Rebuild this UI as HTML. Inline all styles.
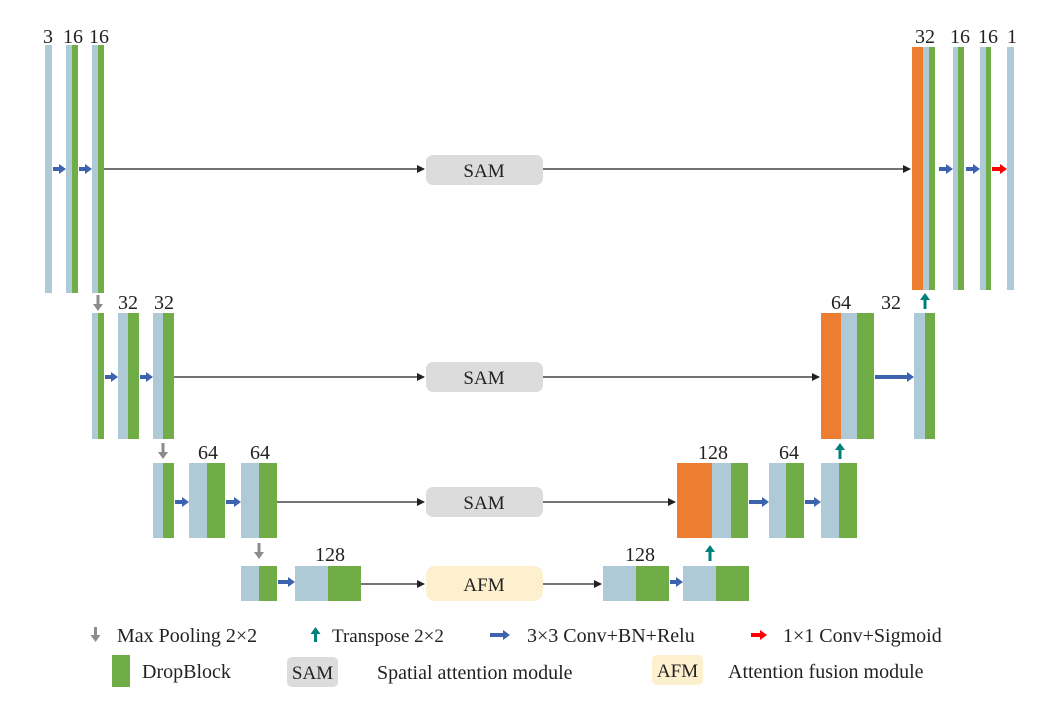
<!DOCTYPE html>
<html><head><meta charset="utf-8"><style>
body{margin:0;background:#fff}
text{font-family:"Liberation Serif",serif;fill:#222}
</style></head><body>
<svg width="1057" height="708" viewBox="0 0 1057 708" xmlns="http://www.w3.org/2000/svg">
<defs>
<marker id="blk" markerWidth="8" markerHeight="8" refX="7" refY="4" orient="auto" markerUnits="userSpaceOnUse"><path d="M0,0 L8,4 L0,8 Z" fill="#222"/></marker>
</defs>
<g id="g"></g>
<script>
const B='#aecad6',G='#70ad47',O='#ed7d31';
const blocks=[
[45,45,248,[[7,B]]],
[66,45,248,[[6,B],[6,G]]],
[92,45,248,[[6,B],[6,G]]],
[912,47,243,[[11,O],[6,B],[6,G]]],
[953,47,243,[[5,B],[6,G]]],
[980,47,243,[[6,B],[5,G]]],
[1007,47,243,[[7,B]]],
[92,313,126,[[6,B],[6,G]]],
[118,313,126,[[10,B],[11,G]]],
[153,313,126,[[10,B],[11,G]]],
[821,313,126,[[20,O],[16,B],[17,G]]],
[914,313,126,[[11,B],[10,G]]],
[153,463,75,[[10,B],[11,G]]],
[189,463,75,[[18,B],[18,G]]],
[241,463,75,[[18,B],[18,G]]],
[677,463,75,[[35,O],[19,B],[17,G]]],
[769,463,75,[[17,B],[18,G]]],
[821,463,75,[[18,B],[18,G]]],
[241,566,35,[[18,B],[18,G]]],
[295,566,35,[[33,B],[33,G]]],
[603,566,35,[[33,B],[33,G]]],
[683,566,35,[[33,B],[33,G]]]
];
const labels=[[48,43,'3'],[73,43,'16'],[99,43,'16'],[925,43,'32'],[960,43,'16'],[988,43,'16'],[1012,43,'1'],
[128,309,'32'],[164,309,'32'],[841,309,'64'],[891,309,'32'],
[208,459,'64'],[260,459,'64'],[713,459,'128'],[789,459,'64'],
[330,561,'128'],[640,561,'128']];
const blue=[[53,169,66],[79,169,92],[939,169,953],[966,169,980],[875,377,914],[105,377,118],[140,377,153],[175,502,189],[226,502,241],[749,502,769],[805,502,821],[278,582,295],[670,582,683]];
const red=[[992,169,1007]];
const down=[[98,295],[163,443],[259,543]];
const up=[[925,293],[840,443],[710,545]];
const ns='http://www.w3.org/2000/svg';
const g=document.getElementById('g');
function el(t,a,p){const e=document.createElementNS(ns,t);for(const k in a)e.setAttribute(k,a[k]);(p||g).appendChild(e);return e;}
blocks.forEach(b=>{let x=b[0];const grp=el('g',{});


b[3].forEach(s=>{el('rect',{x:x,y:b[1],width:s[0],height:b[2],fill:s[1]},grp);x+=s[0];});});
labels.forEach(l=>{const t=el('text',{x:l[0],y:l[1],'font-size':20,'text-anchor':'middle'});t.textContent=l[2];

});
function harrow(x1,y,x2,c){const a=el('g',{});


el('rect',{x:x1,y:y-2,width:x2-x1-6,height:4,fill:c},a);el('path',{d:`M${x2-7},${y-5} L${x2},${y} L${x2-7},${y+5} Z`,fill:c},a);}
blue.forEach(a=>harrow(a[0],a[1],a[2],'#3d62b0'));
red.forEach(a=>harrow(a[0],a[1],a[2],'#ff0000'));
function varrow(x,y,dir,c){const a=el('g',{});


if(dir>0){el('rect',{x:x-1.5,y:y,width:3,height:10,fill:c},a);el('path',{d:`M${x-5},${y+9} L${x+5},${y+9} L${x},${y+16} Z`,fill:c},a);}
else{el('rect',{x:x-1.5,y:y+6,width:3,height:10,fill:c},a);el('path',{d:`M${x-5},${y+7} L${x+5},${y+7} L${x},${y} Z`,fill:c},a);}}
down.forEach(d=>varrow(d[0],d[1],1,'#8c8c8c'));
up.forEach(d=>varrow(d[0],d[1],-1,'#00807a'));
</script>
<g stroke="#222" stroke-width="1.3" fill="none">
<line x1="104" y1="169" x2="424" y2="169" marker-end="url(#blk)"/>
<line x1="543" y1="169" x2="910" y2="169" marker-end="url(#blk)"/>
<line x1="174" y1="377" x2="424" y2="377" marker-end="url(#blk)"/>
<line x1="543" y1="377" x2="819" y2="377" marker-end="url(#blk)"/>
<line x1="277" y1="502" x2="424" y2="502" marker-end="url(#blk)"/>
<line x1="543" y1="502" x2="675" y2="502" marker-end="url(#blk)"/>
<line x1="361" y1="584" x2="424" y2="584" marker-end="url(#blk)"/>
<line x1="543" y1="584" x2="601" y2="584" marker-end="url(#blk)"/>
</g>
<g><rect x="426" y="155" width="117" height="30" rx="7" fill="#dcdcdc"/><text x="484" y="177" font-size="19" text-anchor="middle">SAM</text></g>
<g><rect x="426" y="362" width="117" height="30" rx="7" fill="#dcdcdc"/><text x="484" y="384" font-size="19" text-anchor="middle">SAM</text></g>
<g><rect x="426" y="487" width="117" height="30" rx="7" fill="#dcdcdc"/><text x="484" y="509" font-size="19" text-anchor="middle">SAM</text></g>
<g><rect x="426" y="566" width="117" height="35" rx="9" fill="#fdf0cf"/><text x="484" y="591" font-size="19" text-anchor="middle">AFM</text></g>
<g>
<rect x="94" y="627" width="3" height="9" fill="#8c8c8c"/><path d="M90.5,635 L100.5,635 L95.5,642 Z" fill="#8c8c8c"/>
<text x="117" y="642" font-size="20">Max Pooling 2×2</text>
<rect x="314" y="633" width="3" height="9" fill="#00807a"/><path d="M310.5,634 L320.5,634 L315.5,627 Z" fill="#00807a"/>
<text x="332" y="642" font-size="19">Transpose 2×2</text>
<rect x="490" y="633" width="14" height="4" fill="#3d62b0"/><path d="M503,630 L510,635 L503,640 Z" fill="#3d62b0"/>
<text x="527" y="642" font-size="20">3×3 Conv+BN+Relu</text>
<rect x="751" y="633" width="10" height="4" fill="#ff0000"/><path d="M760,630 L767,635 L760,640 Z" fill="#ff0000"/>
<text x="783" y="642" font-size="20">1×1 Conv+Sigmoid</text>
<rect x="112" y="655" width="18" height="32" fill="#70ad47"/>
<text x="142" y="678" font-size="20">DropBlock</text>
<rect x="287" y="657" width="51" height="30" rx="5" fill="#dcdcdc"/><text x="312.5" y="679" font-size="19" text-anchor="middle">SAM</text>
<text x="377" y="679" font-size="20">Spatial attention module</text>
<rect x="652" y="655" width="51" height="30" rx="5" fill="#fdf0cf"/><text x="677.5" y="677" font-size="19" text-anchor="middle">AFM</text>
<text x="728" y="678" font-size="20">Attention fusion module</text>
</g>
</svg>
</body></html>
